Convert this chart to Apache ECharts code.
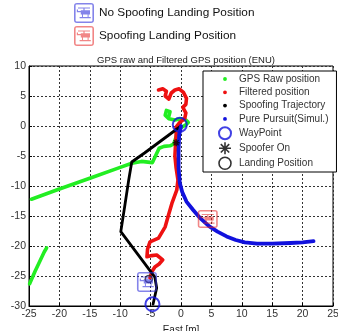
<!DOCTYPE html>
<html>
<head>
<meta charset="utf-8">
<script src="https://cdn.jsdelivr.net/npm/echarts@6/dist/echarts.min.js"></script>
<style>
    html, body { margin: 0; padding: 0; background: #fff; }
    #main { width: 338px; height: 331px; }
</style>
</head>
<body>
<div id="main"></div>
<script>
// ---- data (East, North in metres) ----
const gpsRaw = [[-24.6,-12.2],[-20,-10.5],[-15,-8.7],[-10,-6.9],[-8.1,-6.2],[-6.5,-5.9],[-4.7,-6.1],[-4.2,-5],[-3.6,-3.7],
    [-2.8,-3.4],[-1.8,-3.3],[-1.2,-3],[-0.8,-1.8],[-0.6,-0.8],[0,-0.3],[0.8,0.2],[1.2,0.6],[0.8,1],[0,1.2],[-1,1],
    [-2,1.2],[-2.6,1.8],[-2.4,2.6],[-1.8,2.4],[-2,1.6]];
const gpsRaw2 = [[-24.9,-26.3],[-24,-24.2],[-23.2,-22.5],[-22.5,-21],[-22.1,-20.3]];
const filtered = [[-3.7,6],[-3,6.2],[-2.4,5.8],[-2.6,5],[-2,4.5],[-1.6,5.5],[-1,6],[-0.3,6.2],[0.4,5.6],[0.9,4.6],
    [0.8,3.6],[0.3,3.1],[0.8,2.2],[0.6,1.2],[-0.2,0.6],[-0.8,-0.2],[-0.8,-1.5],[-0.9,-3],[-1,-5],[-0.8,-7],[-0.5,-9],
    [-0.7,-10.7],[-1.5,-12.9],[-2.1,-15],[-2.6,-16.8],[-3.7,-18.7],[-5.1,-19.3],[-5.5,-20.5],[-5.6,-21.8],[-4.8,-21.6],
    [-4,-21.5],[-3,-22.3],[-3.6,-23],[-4.3,-23.5],[-4.8,-24.3],[-5.1,-25.3]];
const spoofTraj = [[0,0],[-2,-1.5],[-4,-3],[-6,-4.5],[-8.1,-6],[-8.6,-9],[-9.2,-13],[-9.9,-17.6],[-4.3,-25.2],[-4,-27],[-4.6,-29.7]];
const purePursuit = [[0,0],[-0.3,-1.5],[-0.4,-4],[-0.4,-7],[-0.2,-9.5],[0.2,-11],[0.9,-12.6],[2,-14],[3.2,-15.4],[4.6,-16.7],
    [6,-17.6],[7.5,-18.4],[9,-19],[10.5,-19.4],[12.5,-19.6],[15,-19.6],[18,-19.5],[20,-19.4],[21.8,-19.2]];
const wayPoints = [[-0.2,0.2],[-4.7,-29.7]];
const spooferOn = [[-0.8,-2.8]];
const landing = [[-5.3,-25.5]];
const noSpoofLanding = [[-5.6,-26]];
const spoofLanding = [[4.4,-15.5]];

const xTicks = [-25, 25, 5];   // min, max, step
const yTicks = [-30, 10, 5];

// ---- symbols ----
// 圆角框 + 直升机
const heli = 'path://M15,0 L85,0 Q100,0 100,15 L100,85 Q100,100 85,100 L15,100 Q0,100 0,85 L0,15 Q0,0 15,0 Z ' +
    'M12,8 Q8,8 8,12 L8,88 Q8,92 12,92 L88,92 Q92,92 92,88 L92,12 Q92,8 88,8 Z ' +
    'M20,22 L80,22 L80,28 L20,28 Z M47,28 L53,28 L53,36 L47,36 Z M34,36 L80,36 L80,58 L34,58 Z ' +
    'M14,40 L34,40 L34,46 L14,46 Z M14,32 L20,32 L20,46 L14,46 Z ' +
    'M40,58 L45,58 L45,70 L40,70 Z M68,58 L73,58 L73,70 L68,70 Z M28,70 L84,70 L84,76 L28,76 Z';
// 图例中的小圆点（外面留白）
const dot = 'path://M0,0 M100,100 M50,34 A16,16 0 1,1 49.9,34 Z';
const star = 'path://M50,10 L50,90 M10,50 L90,50 M22,22 L78,78 M78,22 L22,78';

const font = 'Liberation Sans, Arial, sans-serif';

function lineSeries(name, data, color, width) {
    return {
        name: name, type: 'line', data: data, showSymbol: false, symbol: 'none',
        lineStyle: { color: color, width: width, join: 'round', cap: 'round' }, itemStyle: { color: color },
        z: 2, animation: false
    };
}

let myChart = echarts.init(document.getElementById('main'));
let option = {
    animation: false,
    title: {
        text: 'GPS raw and Filtered GPS position (ENU)',
        left: 181, top: 50, textAlign: 'center',
        textStyle: { fontSize: 9.5, fontWeight: 'normal', color: '#222', fontFamily: font }
    },
    legend: [{
        // 上方两个着陆位置图例
        data: ['No Spoofing Landing Position', 'Spoofing Landing Position'],
        orient: 'vertical', left: 74, top: 3, padding: 0,
        itemWidth: 20, itemHeight: 21, itemGap: 3,
        textStyle: { fontSize: 11.8, color: '#111', fontFamily: font },
        selectedMode: false
    }, {
        data: [
            { name: 'GPS Raw position', icon: dot, itemStyle: { color: '#22ee22' } },
            { name: 'Filtered position', icon: dot, itemStyle: { color: '#ee1111' } },
            { name: 'Spoofing Trajectory', icon: dot, itemStyle: { color: '#000' } },
            { name: 'Pure Pursuit(Simul.)', icon: dot, itemStyle: { color: '#1111dd' } },
            { name: 'WayPoint', icon: 'circle', itemStyle: { color: 'transparent', borderColor: '#1111dd', borderWidth: 2 } },
            { name: 'Spoofer On', icon: star, itemStyle: { color: 'transparent', borderColor: '#000', borderWidth: 1.6 } },
            { name: 'Landing Position', icon: 'circle', itemStyle: { color: 'transparent', borderColor: '#000', borderWidth: 1.6 } }
        ],
        orient: 'vertical', left: 203, top: 71,
        padding: [2, 8, 2, 15],
        itemWidth: 18, itemHeight: 12, itemGap: 1.3,
        backgroundColor: '#fff', borderColor: '#000', borderWidth: 1,
        textStyle: { fontSize: 10, lineHeight: 12, color: '#333', fontFamily: font },
        selectedMode: false
    }],
    grid: {
        left: 29, right: 5, top: 66, bottom: 25, show: true, borderColor: '#000', borderWidth: 1,
        outerBoundsMode: 'none', containLabel: false
    },
    xAxis: {
        type: 'value', min: xTicks[0], max: xTicks[1], interval: xTicks[2],
        name: 'East [m]', nameLocation: 'middle', nameGap: 14,
        nameTextStyle: { fontSize: 10, color: '#222', fontFamily: font },
        axisLine: { onZero: false, lineStyle: { color: '#000' } },
        axisTick: { inside: true, length: 3, lineStyle: { color: '#000' } },
        axisLabel: { fontSize: 10.5, color: '#333', margin: 3, fontFamily: font },
        splitLine: { show: true, lineStyle: { color: '#333', type: [2, 2], width: 1 } }
    },
    yAxis: {
        type: 'value', min: yTicks[0], max: yTicks[1], interval: yTicks[2],
        name: 'North [m]', nameLocation: 'middle', nameGap: 20,
        nameTextStyle: { fontSize: 10, color: '#222', fontFamily: font },
        axisLine: { onZero: false, lineStyle: { color: '#000' } },
        axisTick: { inside: true, length: 3, lineStyle: { color: '#000' } },
        axisLabel: { fontSize: 10.5, color: '#333', margin: 3, fontFamily: font },
        splitLine: { show: true, lineStyle: { color: '#333', type: [2, 2], width: 1 } }
    },
    series: [
        lineSeries('GPS Raw position', gpsRaw, '#22ee22', 3.6),
        lineSeries('GPS Raw position', gpsRaw2, '#22ee22', 3.6),
        lineSeries('Filtered position', filtered, '#ee1111', 3.6),
        lineSeries('Spoofing Trajectory', spoofTraj, '#000', 2.8),
        lineSeries('Pure Pursuit(Simul.)', purePursuit, '#1111dd', 3.8),
        {
            name: 'WayPoint', type: 'scatter', data: wayPoints, symbol: 'circle', symbolSize: 14, z: 4,
            itemStyle: { color: 'transparent', borderColor: '#1111dd', borderWidth: 2 }
        },
        {
            name: 'Spoofer On', type: 'scatter', data: spooferOn, symbol: star, symbolSize: 7, z: 4,
            itemStyle: { color: 'transparent', borderColor: '#000', borderWidth: 1.4 }
        },
        {
            name: 'Landing Position', type: 'scatter', data: landing, symbol: 'circle', symbolSize: 7, z: 4,
            itemStyle: { color: 'transparent', borderColor: '#222', borderWidth: 1.5 }
        },
        {
            name: 'No Spoofing Landing Position', type: 'scatter', data: noSpoofLanding, symbol: heli, symbolSize: 20, z: 5,
            itemStyle: { color: 'rgba(50,50,220,0.75)' }
        },
        {
            name: 'Spoofing Landing Position', type: 'scatter', data: spoofLanding, symbol: heli, symbolSize: [20, 18], z: 5,
            itemStyle: { color: 'rgba(230,40,40,0.7)' }
        }
    ]
};
myChart.setOption(option);
</script>
</body>
</html>
